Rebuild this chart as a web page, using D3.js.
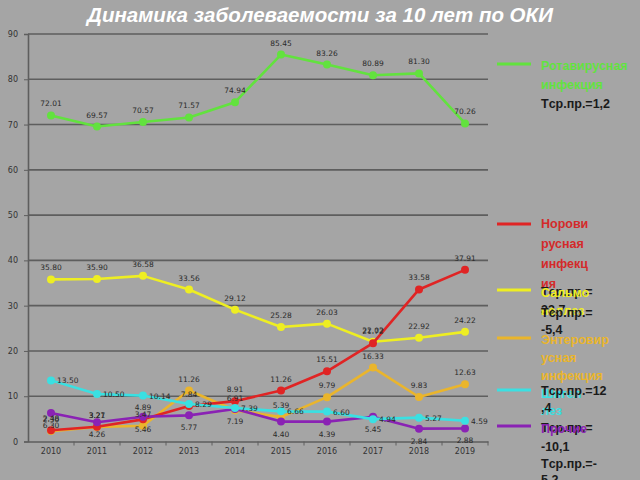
<!DOCTYPE html>
<html><head><meta charset="utf-8">
<script src="https://cdn.jsdelivr.net/npm/d3@7"></script>
<style>body{margin:0;background:#a5a5a5;}svg{display:block;}</style>
</head><body>
<svg id="c" width="640" height="480"></svg>
<script>
const years = ["2010","2011","2012","2013","2014","2015","2016","2017","2018","2019"];
const yTicks = [0,10,20,30,40,50,60,70,80,90];
const rota   = [72.01,69.57,70.57,71.57,74.94,85.45,83.26,80.89,81.30,70.26];
const noro   = [2.48,3.27,4.89,7.84,8.91,11.26,15.51,21.72,33.58,37.91];
const salmo  = [35.80,35.90,36.58,33.56,29.12,25.28,26.03,22.02,22.92,24.22];
const entero = [2.30,3.21,3.47,11.26,6.91,5.39,9.79,16.33,9.83,12.63];
const shig   = [13.50,10.50,10.14,8.29,7.39,6.66,6.60,4.94,5.27,4.59];
const other  = [6.30,4.26,5.46,5.77,7.19,4.40,4.39,5.45,2.84,2.88];

const series = [
  {name:"rota", vals:rota, color:"#62e23e", pos:"above"},
  {name:"salmo", vals:salmo, color:"#eeee22", pos:"above"},
  {name:"entero", vals:entero, color:"#eab52c", pos:"above"},
  {name:"noro", vals:noro, color:"#e02424", pos:"above"},
  {name:"other", vals:other, color:"#8a22b4", pos:"below"},
  {name:"shig", vals:shig, color:"#3ae0e2", pos:"right"}
];

const svg = d3.select("#c");
svg.append("rect").attr("width",640).attr("height",480).attr("fill","#a5a5a5");

const x = d3.scaleBand().domain(years).range([28,488]);
const y = d3.scaleLinear().domain([0,90]).range([441.5,34]);

svg.append("g").selectAll("line").data(yTicks.filter(d=>d>0)).join("line")
  .attr("x1",28).attr("x2",488).attr("y1",d=>y(d)).attr("y2",d=>y(d))
  .attr("stroke","#5e5e5e").attr("stroke-width",1.6);

const ya = svg.append("g").attr("transform","translate(28,0)")
  .call(d3.axisLeft(y).tickValues(yTicks).tickSize(4).tickPadding(6).tickFormat(d3.format("d")));
ya.select(".domain").attr("stroke","#5e5e5e").attr("stroke-width",1.6);
ya.selectAll(".tick line").attr("stroke","#5e5e5e");
ya.selectAll("text").attr("fill","#333").attr("font-size",8).attr("font-family","DejaVu Sans");

const xa = svg.append("g").attr("transform",`translate(0,${y(0)})`)
  .call(d3.axisBottom(x).tickSize(0).tickPadding(7));
xa.select(".domain").attr("stroke","#5e5e5e").attr("stroke-width",1.6);
xa.selectAll("text").attr("fill","#333").attr("font-size",8).attr("font-family","DejaVu Sans");
xa.selectAll(".bt").data(years).join("line")
  .attr("x1",d=>x(d)+x.bandwidth()).attr("x2",d=>x(d)+x.bandwidth())
  .attr("y1",0).attr("y2",4).attr("stroke","#5e5e5e");

const cx = d => x(d)+x.bandwidth()/2;
const line = d3.line().x((d,i)=>cx(years[i])).y(d=>y(d));

series.forEach(s=>{
  const g = svg.append("g");
  g.append("path").datum(s.vals).attr("d",line).attr("fill","none")
    .attr("stroke",s.color).attr("stroke-width",2.6).attr("stroke-linejoin","round");
  g.selectAll("circle").data(s.vals).join("circle")
    .attr("cx",(d,i)=>cx(years[i])).attr("cy",d=>y(d)).attr("r",4).attr("fill",s.color);
});
series.forEach(s=>{
  svg.append("g").selectAll("text").data(s.vals).join("text")
    .attr("x",(d,i)=>cx(years[i]) + (s.pos==="right"?6:0))
    .attr("y",d=> y(d) + (s.pos==="above"?-9:(s.pos==="below"?15:3)))
    .attr("text-anchor",s.pos==="right"?"start":"middle")
    .attr("font-size",7.5).attr("font-family","DejaVu Sans").attr("fill","#2a2a2a")
    .text(d=>d.toFixed(2));
});

svg.append("text").attr("x",320).attr("y",22).attr("text-anchor","middle")
  .attr("font-family","Liberation Sans, Arial").attr("font-weight","bold").attr("font-style","italic")
  .attr("font-size",20.5).attr("fill","#ffffff")
  .text("Динамика заболеваемости за 10 лет по ОКИ");

const lg = svg.append("g").attr("font-family","Liberation Sans, Arial").attr("font-weight","bold").attr("font-size",12.5);
const legLines = [
  {y:64, c:"#62e23e"},{y:224, c:"#e02424"},{y:290, c:"#eeee22"},
  {y:338, c:"#eab52c"},{y:390, c:"#3ae0e2"},{y:426, c:"#8a22b4"}
];
lg.selectAll("line").data(legLines).join("line")
  .attr("x1",497).attr("x2",531).attr("y1",d=>d.y).attr("y2",d=>d.y)
  .attr("stroke",d=>d.c).attr("stroke-width",3);
const legTexts = [
  {t:"Ротавирусная", y:70, c:"#62e23e"},
  {t:"инфекция", y:89, c:"#62e23e"},
  {t:"Tср.пр.=1,2", y:108, c:"#1a1a1a"},
  {t:"Норови", y:228, c:"#d42a2a"},
  {t:"русная", y:248, c:"#d42a2a"},
  {t:"инфекц", y:268, c:"#d42a2a"},
  {t:"ия", y:288, c:"#d42a2a"},
  {t:"Tср.пр.=", y:296, c:"#1a1a1a"},
  {t:"33,7", y:314, c:"#1a1a1a"},
  {t:"Сальмо", y:297, c:"#eeee22"},
  {t:"неллез", y:315, c:"#eeee22"},
  {t:"Tср.пр.=", y:317, c:"#1a1a1a"},
  {t:"-5,4", y:334, c:"#1a1a1a"},
  {t:"Энтеровир", y:344, c:"#eab52c"},
  {t:"усная", y:362, c:"#eab52c"},
  {t:"инфекция", y:380, c:"#eab52c"},
  {t:"Шигел", y:398, c:"#3ae0e2"},
  {t:"Tср.пр.=12", y:395, c:"#1a1a1a"},
  {t:"лез", y:415, c:"#3ae0e2"},
  {t:",4", y:412, c:"#1a1a1a"},
  {t:"Tср.пр.=", y:432, c:"#1a1a1a"},
  {t:"Прочие", y:433, c:"#8a22b4"},
  {t:"-10,1", y:451, c:"#1a1a1a"},
  {t:"Tср.пр.=-", y:468, c:"#1a1a1a"},
  {t:"5,2", y:484, c:"#1a1a1a"}
];
lg.selectAll("text").data(legTexts).join("text")
  .attr("x",541).attr("y",d=>d.y).attr("fill",d=>d.c).text(d=>d.t);
</script>
</body></html>
